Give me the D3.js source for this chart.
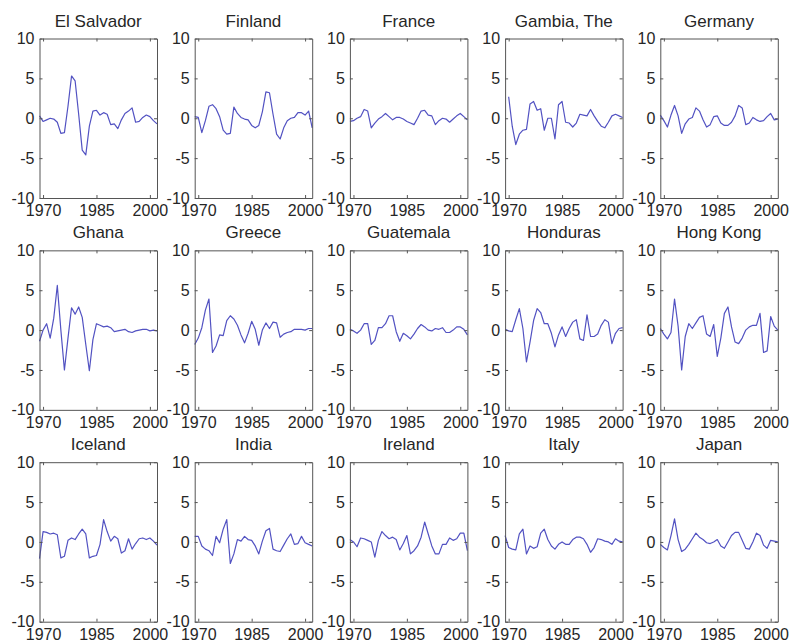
<!DOCTYPE html>
<html>
<head>
<meta charset="utf-8">
<script src="https://cdn.jsdelivr.net/npm/d3@7"></script>
<style>
  body { margin: 0; background: #fff; }
  svg { display: block; }
</style>
</head>
<body>
<svg id="chart" width="793" height="642"></svg>
<script>
// Annual deviations, 1969-2002, one array per country
const years = d3.range(1969, 2003);
const countries = ["El Salvador", "Finland", "France", "Gambia, The", "Germany",
                   "Ghana", "Greece", "Guatemala", "Honduras", "Hong Kong",
                   "Iceland", "India", "Ireland", "Italy", "Japan"];

const elSalvador = [0.3, -0.4, -0.2, 0.0, -0.1, -0.5, -1.9, -1.8, 1.5, 5.3, 4.7, 0.5, -4.0, -4.6, -1.0, 0.9, 1.0, 0.4, 0.7, 0.5, -0.8, -0.7, -1.3, -0.2, 0.6, 0.9, 1.3, -0.5, -0.4, 0.1, 0.4, 0.2, -0.3, -0.7];
const finland = [0.2, 0.1, -1.8, -0.3, 1.5, 1.7, 1.2, 0.2, -1.5, -2.0, -1.9, 1.4, 0.6, 0.1, -0.1, -0.2, -0.9, -1.2, -0.9, 0.8, 3.3, 3.2, 0.5, -2.0, -2.6, -1.2, -0.3, 0.0, 0.1, 0.7, 0.7, 0.4, 0.9, -1.2];
const france = [-0.4, -0.3, 0.0, 0.2, 1.1, 0.9, -1.2, -0.6, -0.1, 0.2, 0.6, 0.2, -0.2, 0.1, 0.1, -0.1, -0.4, -0.6, -0.8, 0.0, 0.9, 1.0, 0.4, 0.3, -0.8, -0.3, 0.0, -0.1, -0.5, -0.1, 0.3, 0.6, 0.2, -0.2];
const gambia = [null, 2.7, -1.0, -3.3, -2.0, -1.5, -1.4, 1.8, 2.1, 1.0, 1.2, -1.5, 0.0, 0.0, -2.6, 1.7, 2.1, -0.5, -0.6, -1.1, -0.6, 0.5, 0.4, 0.3, 1.1, 0.3, -0.4, -1.0, -1.2, -0.5, 0.3, 0.5, 0.3, 0.1];
const germany = [0.4, -0.3, -1.1, 0.4, 1.6, 0.3, -1.9, -0.7, -0.1, 0.1, 1.3, 0.9, -0.2, -1.1, -0.8, 0.2, 0.3, -0.6, -0.9, -0.9, -0.5, 0.3, 1.6, 1.3, -0.8, -0.6, 0.1, -0.2, -0.4, -0.3, 0.2, 0.6, -0.2, -0.1];
const ghana = [-1.4, 0.0, 0.8, -1.0, 1.5, 5.6, 0.0, -5.0, -1.0, 2.8, 2.0, 2.9, 1.6, -1.8, -5.1, -1.2, 0.8, 0.6, 0.4, 0.5, 0.3, -0.2, -0.1, 0.0, 0.1, -0.2, -0.3, -0.1, 0.0, 0.1, 0.1, -0.1, 0.0, -0.1];
const greece = [-1.8, -1.0, 0.3, 2.5, 3.9, -2.8, -2.0, -0.6, -0.7, 1.2, 1.8, 1.4, 0.6, -0.6, -1.6, -0.4, 1.1, 0.1, -1.9, 0.0, 0.9, 0.2, 1.0, 0.9, -0.9, -0.5, -0.3, -0.2, 0.1, 0.1, 0.1, 0.0, 0.2, 0.2];
const guatemala = [0.1, -0.1, -0.4, 0.0, 0.8, 0.8, -1.8, -1.3, 0.3, 0.3, 0.8, 1.8, 1.8, -0.2, -1.4, -0.4, -0.7, -1.1, -0.5, 0.2, 0.7, 0.4, 0.0, -0.1, 0.2, 0.1, 0.3, -0.3, -0.3, 0.0, 0.4, 0.4, 0.1, -0.6];
const honduras = [0.1, -0.1, -0.2, 1.3, 2.7, 0.2, -4.0, -1.5, 1.2, 2.7, 2.2, 0.8, 0.8, -0.4, -2.1, -0.6, 0.4, -0.8, 0.2, 1.0, 1.3, -1.1, -1.3, 1.9, -0.8, -0.8, -0.5, 0.6, 1.3, 1.0, -1.7, -0.4, 0.2, 0.3];
const hongKong = [0.2, -0.5, -1.1, -0.3, 3.9, 0.5, -5.0, -0.8, 0.8, 0.2, 0.9, 1.6, 1.8, -0.5, -0.8, 0.7, -3.3, -1.0, 2.1, 2.9, 0.4, -1.5, -1.7, -1.0, 0.0, 0.4, 0.6, 0.6, 2.1, -2.8, -2.6, 1.7, 0.5, 0.0];
const iceland = [-2.1, 1.3, 1.2, 1.0, 1.1, 0.9, -2.0, -1.8, 0.2, 0.5, 0.3, 1.0, 1.6, 1.0, -2.0, -1.8, -1.7, -0.3, 2.8, 1.3, 0.1, 0.7, 0.4, -1.4, -1.1, 0.4, -0.9, -0.2, 0.4, 0.5, 0.3, 0.5, 0.1, -0.4];
const india = [0.7, 0.7, -0.5, -0.9, -1.1, -1.7, 0.7, -0.1, 1.6, 2.8, -2.7, -1.5, 0.3, 0.1, 0.7, 0.3, 0.2, -0.5, -1.5, 0.1, 1.4, 1.7, -0.9, -1.1, -1.2, -0.4, 0.4, 1.0, -0.3, -0.2, 0.7, -0.1, -0.3, -0.5];
const ireland = [0.3, 0.0, -0.6, 0.5, 0.4, 0.2, 0.0, -1.9, 0.2, 1.3, 0.8, 0.4, 0.6, 0.3, -1.0, -0.2, 0.8, -1.5, -1.1, -0.5, 0.6, 2.5, 1.0, -0.5, -1.5, -1.5, -0.3, -0.3, 0.5, 0.2, 0.4, 1.1, 1.1, -1.1];
const italy = [0.8, -0.7, -0.9, -1.0, 1.0, 1.6, -1.5, -0.5, -0.8, -0.6, 1.1, 1.6, 0.3, -0.5, -0.9, -0.3, 0.0, -0.3, -0.3, 0.3, 0.6, 0.6, 0.4, -0.3, -1.3, -0.7, 0.4, 0.3, 0.1, 0.0, -0.3, 0.4, 0.1, 0.0];
const japan = [-0.3, -0.7, -1.0, 0.8, 2.9, 0.3, -1.2, -0.9, -0.3, 0.4, 1.1, 0.6, 0.3, -0.1, -0.2, 0.0, 0.3, -0.5, -0.8, 0.0, 0.8, 1.2, 1.2, 0.2, -0.8, -0.9, 0.0, 1.1, 0.8, -0.4, -0.8, 0.2, 0.1, 0.0];

const series = [elSalvador, finland, france, gambia, germany,
                ghana, greece, guatemala, honduras, hongKong,
                iceland, india, ireland, italy, japan];

const xTicks = [1970, 1985, 2000];
const yTicks = [-10, -5, 0, 5, 10];

// Grid geometry: 3 rows x 5 columns of small axes
const panelW = 117.5, panelH = 159.5;
const colLeft = c => 39.5 + c * 155.2;
const rowTop = r => 38.5 + r * 211.85;

const font = "'Liberation Sans', Arial, Helvetica, sans-serif";
const textColor = "#262626";
const frameColor = "#555";
const lineColor = "#5252c2";

const svg = d3.select("#chart");

const x = d3.scaleLinear().domain([1969, 2002]).range([0, panelW]);
const y = d3.scaleLinear().domain([-10, 10]).range([panelH, 0]);

const line = d3.line()
  .defined(d => d.v !== null)
  .x(d => x(d.year))
  .y(d => y(d.v));

// plain hyphen-minus labels
const plain = d => String(d);

function styleAxis(g) {
  g.attr("font-family", font).attr("font-size", 16);
  g.select(".domain").attr("stroke", frameColor).attr("stroke-width", 1);
  g.selectAll(".tick line").attr("stroke", frameColor).attr("stroke-width", 1);
  g.selectAll(".tick text").attr("fill", textColor);
}

series.forEach((vals, i) => {
  const r = Math.floor(i / 5), c = i % 5;
  const g = svg.append("g")
    .attr("transform", `translate(${colLeft(c)},${rowTop(r)})`);

  // data line
  g.append("path")
    .datum(years.map((year, k) => ({ year, v: vals[k] })))
    .attr("fill", "none")
    .attr("stroke", lineColor)
    .attr("stroke-width", 1.2)
    .attr("stroke-linejoin", "round")
    .attr("d", line);

  // bottom axis with labels, ticks pointing inward
  g.append("g")
    .attr("transform", `translate(0,${panelH})`)
    .call(d3.axisBottom(x).tickValues(xTicks).tickFormat(plain)
      .tickSizeInner(-3).tickSizeOuter(0).tickPadding(7))
    .call(styleAxis);

  // top edge, ticks only
  g.append("g")
    .call(d3.axisTop(x).tickValues(xTicks).tickFormat(() => "")
      .tickSizeInner(-3).tickSizeOuter(0))
    .call(styleAxis);

  // left axis with labels
  g.append("g")
    .call(d3.axisLeft(y).tickValues(yTicks).tickFormat(plain)
      .tickSizeInner(-3).tickSizeOuter(0).tickPadding(5))
    .call(styleAxis);

  // right edge, ticks only
  g.append("g")
    .attr("transform", `translate(${panelW},0)`)
    .call(d3.axisRight(y).tickValues(yTicks).tickFormat(() => "")
      .tickSizeInner(-3).tickSizeOuter(0))
    .call(styleAxis);

  // panel title
  g.append("text")
    .attr("x", panelW / 2)
    .attr("y", -12)
    .attr("text-anchor", "middle")
    .attr("font-family", font)
    .attr("font-size", 17)
    .attr("fill", textColor)
    .text(countries[i]);
});
</script>
</body>
</html>
